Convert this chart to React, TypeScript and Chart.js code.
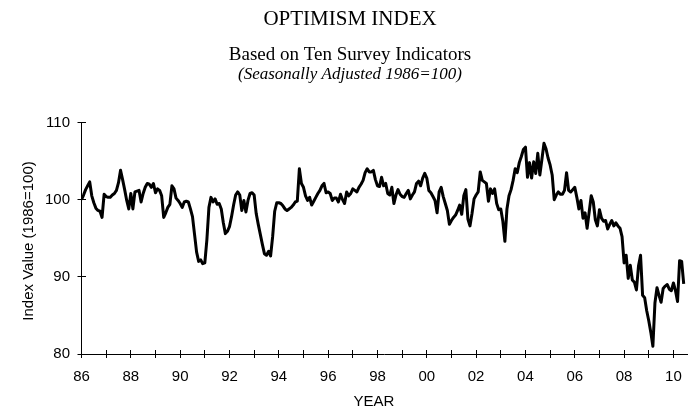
import React, { useEffect, useRef } from 'react';
import { Chart, registerables } from 'chart.js';

Chart.register(...registerables);

// Monthly index values (Jan..Dec), seasonally adjusted, 1986 = 100
const y1986 = [100.0, 100.6, 101.3, 101.8, 102.3, 100.5, 99.6, 98.9, 98.6, 98.5, 97.7, 100.7];
const y1987 = [100.4, 100.3, 100.3, 100.6, 100.8, 101.2, 102.2, 103.8, 102.6, 101.3, 99.9, 98.8];
const y1988 = [100.8, 98.8, 101.0, 101.1, 101.2, 99.7, 100.8, 101.6, 102.1, 102.0, 101.6, 102.1];
const y1989 = [100.9, 101.4, 101.2, 100.5, 97.7, 98.3, 99.0, 99.4, 101.8, 101.4, 100.2, 99.9];
const y1990 = [99.5, 99.0, 99.7, 99.8, 99.7, 98.8, 97.8, 95.5, 93.2, 92.0, 92.2, 91.7];
const y1991 = [91.8, 94.8, 99.0, 100.3, 99.7, 100.1, 99.4, 99.5, 98.8, 97.0, 95.6, 95.9];
const y1992 = [96.5, 97.8, 99.3, 100.6, 101.0, 100.6, 98.6, 99.9, 98.4, 99.9, 100.8, 100.9];
const y1993 = [100.6, 98.2, 96.8, 95.5, 94.2, 93.0, 92.8, 93.3, 92.7, 95.2, 98.5, 99.6];
const y1994 = [99.6, 99.5, 99.2, 98.8, 98.6, 98.8, 99.0, 99.3, 99.7, 99.8, 104.0, 102.1];
const y1995 = [101.6, 100.5, 99.9, 100.3, 99.3, 99.8, 100.3, 100.8, 101.2, 101.8, 102.1, 100.9];
const y1996 = [101.0, 100.8, 99.9, 100.2, 100.2, 99.7, 100.7, 100.0, 99.5, 101.0, 100.5, 100.8];
const y1997 = [101.4, 101.2, 101.0, 101.6, 102.0, 102.5, 103.5, 104.0, 103.6, 103.6, 103.8, 102.6];
const y1998 = [101.8, 101.7, 102.9, 101.8, 102.1, 100.8, 100.6, 101.6, 99.5, 100.6, 101.3, 100.7];
const y1999 = [100.4, 100.3, 100.8, 101.2, 100.1, 100.6, 101.0, 102.1, 102.4, 101.8, 102.8, 103.4];
const y2000 = [102.8, 101.2, 100.9, 100.4, 99.9, 98.3, 101.0, 101.6, 100.4, 99.5, 98.6, 96.8];
const y2001 = [97.3, 97.7, 98.0, 98.6, 99.3, 98.1, 100.5, 101.3, 97.5, 96.6, 98.2, 100.1];
const y2002 = [100.6, 101.0, 103.6, 102.5, 102.3, 102.1, 99.8, 101.4, 100.8, 101.4, 99.5, 98.7];
const y2003 = [98.8, 97.2, 94.6, 98.8, 100.5, 101.3, 102.5, 104.0, 103.5, 104.8, 105.6, 106.5];
const y2004 = [106.8, 102.9, 104.8, 102.8, 104.9, 103.4, 106.0, 103.2, 105.2, 107.3, 106.6, 105.4];
const y2005 = [104.5, 103.2, 100.0, 100.6, 101.0, 100.7, 100.7, 101.2, 103.5, 101.2, 101.0, 101.3];
const y2006 = [101.6, 100.3, 98.8, 99.9, 97.6, 98.3, 96.3, 98.4, 100.5, 99.7, 97.4, 96.6];
const y2007 = [98.7, 97.6, 97.2, 97.3, 96.2, 96.8, 97.3, 96.6, 97.0, 96.6, 96.3, 95.2];
const y2008 = [91.8, 92.8, 89.8, 91.5, 89.6, 89.3, 88.3, 91.4, 92.8, 87.6, 87.3, 85.6];
const y2009 = [84.3, 82.8, 81.0, 86.6, 88.6, 87.6, 86.7, 88.5, 88.8, 89.0, 88.4, 88.2];
const y2010 = [89.2, 88.2, 86.8, 92.1, 92.0, 89.1];

const yearlyValues = [
  y1986, y1987, y1988, y1989, y1990, y1991, y1992, y1993, y1994, y1995, y1996, y1997, y1998,
  y1999, y2000, y2001, y2002, y2003, y2004, y2005, y2006, y2007, y2008, y2009, y2010,
];

const xTickLabels = ['86', '88', '90', '92', '94', '96', '98', '00', '02', '04', '06', '08', '10'];
const yTickValues = [80, 90, 100, 110];

const TITLE = 'OPTIMISM INDEX';
const SUBTITLE = 'Based on Ten Survey Indicators';
const NOTE = '(Seasonally Adjusted 1986=100)';
const X_TITLE = 'YEAR';
const Y_TITLE = 'Index Value (1986=100)';

function align(px: number) {
  return Math.round(px - 0.5) + 0.5;
}

const decorPlugin = {
  id: 'decor',
  afterDraw(chart: any) {
    const ctx = chart.ctx as CanvasRenderingContext2D;
    const area = chart.chartArea;
    const xs = chart.scales.x;
    const ys = chart.scales.y;
    ctx.save();
    ctx.strokeStyle = '#000';
    ctx.lineWidth = 1;
    ctx.beginPath();
    xs.ticks.forEach((t: any) => {
      const px = align(xs.getPixelForValue(t.value));
      ctx.moveTo(px, area.bottom);
      ctx.lineTo(px, area.bottom - 4);
    });
    ys.ticks.forEach((t: any) => {
      const py = align(ys.getPixelForValue(t.value));
      ctx.moveTo(area.left, py);
      ctx.lineTo(area.left + 4.5, py);
    });
    ctx.stroke();

    ctx.fillStyle = '#000';
    ctx.textAlign = 'center';
    ctx.textBaseline = 'alphabetic';
    ctx.font = '21px "Liberation Serif"';
    ctx.fillText(TITLE, 350, 25);
    ctx.font = '19px "Liberation Serif"';
    ctx.fillText(SUBTITLE, 350, 59.5);
    ctx.font = 'italic 17px "Liberation Serif"';
    ctx.fillText(NOTE, 350, 79);
    ctx.font = '15px "Liberation Sans"';
    ctx.fillText(X_TITLE, 374, 406);
    ctx.translate(32.5, 241);
    ctx.rotate(-Math.PI / 2);
    ctx.fillText(Y_TITLE, 0, 0);
    ctx.restore();
  },
};

export default function App() {
  const canvasRef = useRef<HTMLCanvasElement | null>(null);

  useEffect(() => {
    const canvas = canvasRef.current;
    if (!canvas) return;
    const points: { x: number; y: number }[] = [];
    yearlyValues.forEach((vals, yi) => {
      vals.forEach((v, mi) => points.push({ x: yi + mi / 12, y: v }));
    });

    const chart = new Chart(canvas, {
      type: 'line',
      data: {
        datasets: [
          {
            data: points,
            borderColor: '#000',
            borderWidth: 3,
            pointRadius: 0,
            tension: 0,
            fill: false,
            borderJoinStyle: 'round',
          },
        ],
      },
      options: {
        animation: false,
        responsive: false,
        events: [],
        layout: { padding: { top: 122.5, right: 9, bottom: 0, left: 0 } },
        plugins: { legend: { display: false }, tooltip: { enabled: false }, title: { display: false } },
        scales: {
          x: {
            type: 'linear',
            min: 0,
            max: 24.55,
            afterFit: (s: any) => {
              s.height = 58;
            },
            border: { display: true, color: '#000', width: 1 },
            grid: { display: true, drawOnChartArea: false, drawTicks: true, tickLength: 4, color: '#000' },
            ticks: {
              stepSize: 1,
              includeBounds: false,
              autoSkip: false,
              maxRotation: 0,
              padding: 10,
              color: '#000',
              font: { family: 'Liberation Sans', size: 15 },
              callback: (v: any) => {
                const i = Math.round(Number(v));
                return i % 2 === 0 ? xTickLabels[i / 2] ?? '' : '';
              },
            },
          },
          y: {
            type: 'linear',
            min: yTickValues[0],
            max: yTickValues[yTickValues.length - 1],
            afterFit: (s: any) => {
              s.width = 81.5;
            },
            border: { display: true, color: '#000', width: 1 },
            grid: { display: true, drawOnChartArea: false, drawTicks: true, tickLength: 4, color: '#000' },
            ticks: {
              stepSize: 10,
              padding: 7.5,
              color: '#000',
              font: { family: 'Liberation Sans', size: 15 },
            },
          },
        },
      },
      plugins: [decorPlugin],
    } as any);

    return () => chart.destroy();
  }, []);

  return (
    <div style={{ position: 'fixed', left: 0, top: 0, width: 696, height: 412, background: '#fff' }}>
      <canvas ref={canvasRef} width={696} height={412} style={{ display: 'block' }} />
    </div>
  );
}
